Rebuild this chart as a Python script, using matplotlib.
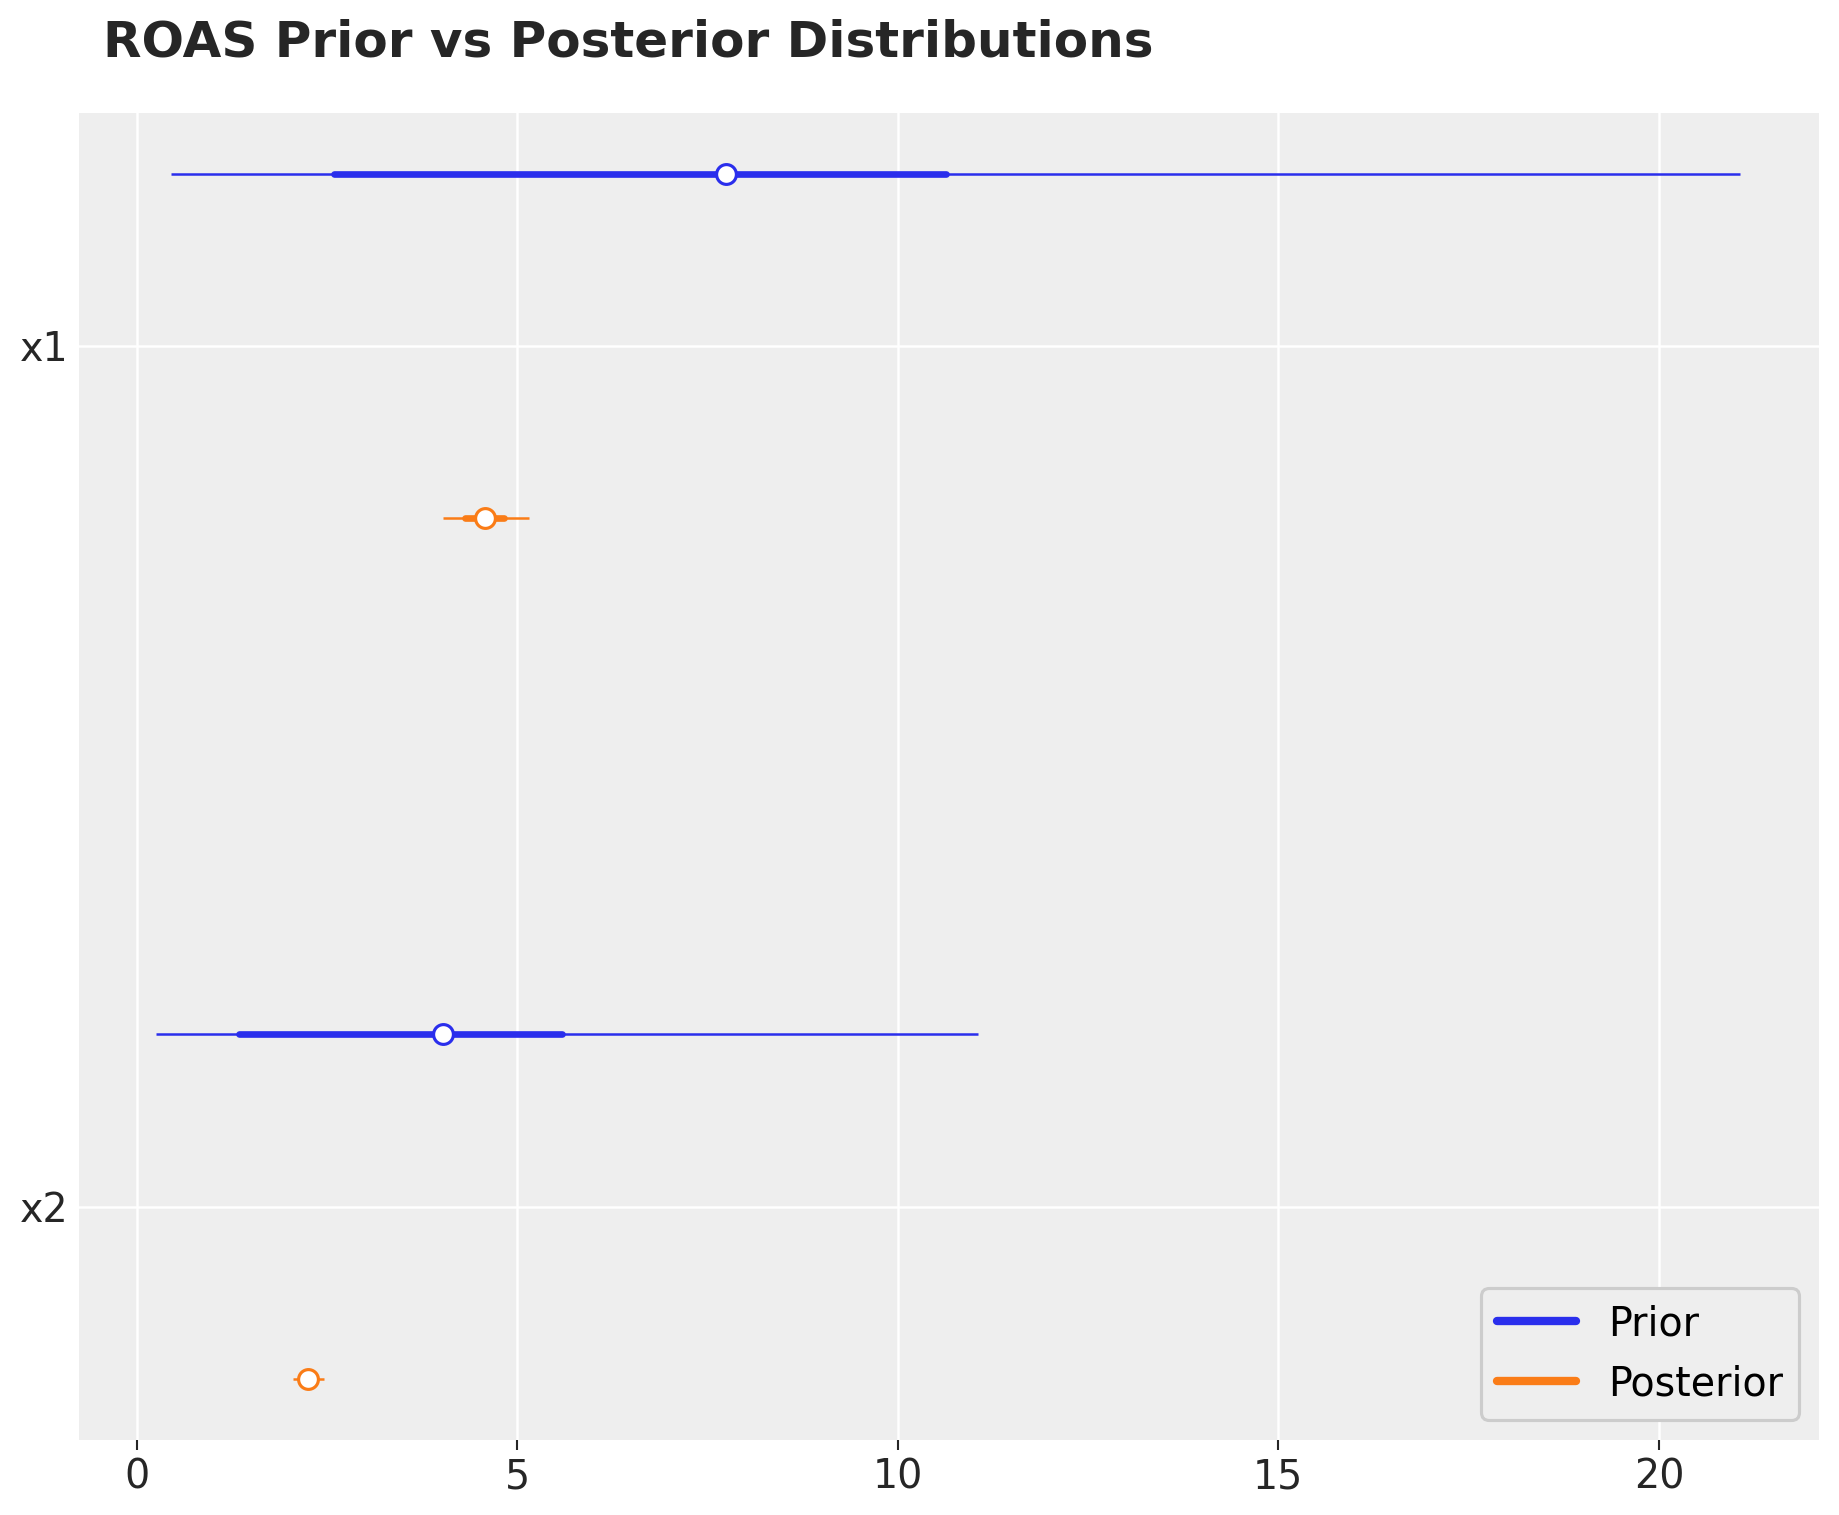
import numpy as np
import matplotlib.pyplot as plt

channels = ["x1", "x2"]
# hdi 94% (thin), 50% (thick), median
prior_low = [0.45, 0.26]
prior_q25 = [2.60, 1.34]
prior_med = [7.75, 4.02]
prior_q75 = [10.63, 5.59]
prior_high = [21.06, 11.06]

post_low = [4.02, 2.05]
post_q25 = [4.31, 2.18]
post_med = [4.58, 2.25]
post_q75 = [4.83, 2.32]
post_high = [5.16, 2.46]

prior_color = "#2a2eec"
post_color = "#fa7c17"

# y positions: x1 group on top, x2 below
prior_y = [3.5, 1.0]
post_y = [2.5, 0.0]
tick_y = [3.0, 0.5]

fig = plt.figure(figsize=(12.26, 10.1), dpi=150)
ax = fig.add_axes([0.043, 0.0497, 0.946, 0.876])
ax.set_facecolor("#eeeeee")
for s in ax.spines.values():
    s.set_visible(False)
ax.grid(True, color="white", linewidth=1.2)
ax.set_axisbelow(True)

def draw(ys, low, q25, med, q75, high, color):
    ax.hlines(ys, low, high, color=color, linewidth=1.2)
    ax.hlines(ys, q25, q75, color=color, linewidth=3.2, capstyle="round")
    ax.plot(med, ys, "o", markersize=9.5, markerfacecolor="white",
            markeredgecolor=color, markeredgewidth=1.5, linestyle="none")

draw(prior_y, prior_low, prior_q25, prior_med, prior_q75, prior_high, prior_color)
draw(post_y, post_low, post_q25, post_med, post_q75, post_high, post_color)

ax.plot([], [], color=prior_color, linewidth=4, solid_capstyle="round", label="Prior")
ax.plot([], [], color=post_color, linewidth=4, solid_capstyle="round", label="Posterior")

ax.set_xlim(-0.755, 22.1)
ax.set_ylim(-0.177, 3.677)
ax.set_yticks(tick_y)
ax.set_yticklabels(channels)
ax.set_xticks([0, 5, 10, 15, 20])
ax.tick_params(axis="both", labelsize=19, colors="#262626", length=5, width=1)
ax.tick_params(axis="y", length=0, pad=5)

leg = ax.legend(loc="lower right", fontsize=19, fancybox=True, framealpha=1,
                facecolor="#eeeeee", edgecolor="#cccccc")
leg.get_frame().set_linewidth(1.5)

fig.text(0.056, 0.988, "ROAS Prior vs Posterior Distributions", fontsize=24,
         fontweight="bold", color="#262626", ha="left", va="top")

fig.savefig("out.png", dpi=150)
